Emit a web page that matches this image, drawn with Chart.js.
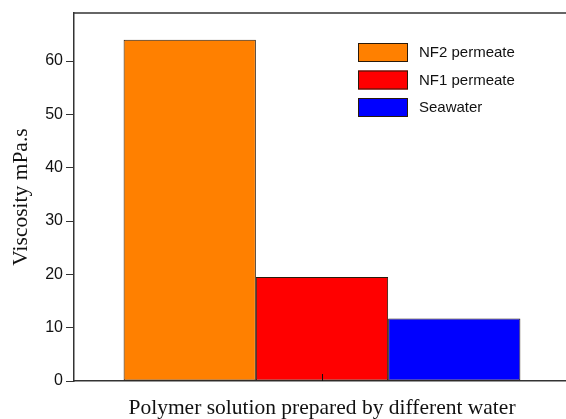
<!DOCTYPE html>
<html>
<head>
<meta charset="utf-8">
<script src="https://cdn.jsdelivr.net/npm/chart.js@4/dist/chart.umd.min.js"></script>
<style>
    html, body { margin: 0; padding: 0; background: #fff; overflow: hidden; }
    #wrap { width: 572px; height: 419px; }
</style>
</head>
<body>
<div id="wrap"><canvas id="myChart"></canvas></div>
<script>
// Data
let categories = [""];
let seriesNames = ["NF2 permeate", "NF1 permeate", "Seawater"];
let viscosity = [64, 19.5, 11.7];
let seriesColors = ["#ff8000", "#ff0000", "#0000ff"];
let yTicks = [0, 10, 20, 30, 40, 50, 60];

let axisColor = "#333333";

// one dataset per water type, all in the same category
var datasets = [];
for (var i = 0; i < seriesNames.length; i++) {
    datasets.push({
        label: seriesNames[i],
        data: [viscosity[i]],
        backgroundColor: seriesColors[i],
        borderColor: "#2a1a0a",
        borderWidth: 1,
        borderSkipped: false,
        categoryPercentage: 0.8,
        barPercentage: 1.0
    });
}

// top frame line, inward x tick and the legend inside the plot
var framePlugin = {
    id: "frame",
    afterDraw: function (chart) {
        let ctx = chart.ctx;
        let area = chart.chartArea;
        let xs = chart.scales.x;
        ctx.save();
        ctx.strokeStyle = axisColor;
        ctx.lineWidth = 1.5;
        ctx.beginPath();
        ctx.moveTo(area.left, area.top);
        ctx.lineTo(area.right, area.top);
        ctx.stroke();

        // tick on the x axis pointing up
        let tx = Math.round(xs.getPixelForValue(0)) + 0.5;
        ctx.lineWidth = 1;
        ctx.strokeStyle = "#111";
        ctx.beginPath();
        ctx.moveTo(tx, area.bottom);
        ctx.lineTo(tx, area.bottom - 7);
        ctx.stroke();

        // legend
        let lx = area.right - 212;
        let ly = area.top + 30;
        ctx.font = "15px 'Liberation Sans', Arial, sans-serif";
        ctx.textBaseline = "middle";
        ctx.textAlign = "left";
        chart.data.datasets.forEach(function (ds, k) {
            let y = ly + k * 27.5;
            ctx.fillStyle = ds.backgroundColor;
            ctx.fillRect(lx, y, 50, 19);
            ctx.strokeStyle = "#2a1a0a";
            ctx.lineWidth = 1;
            ctx.strokeRect(lx + 0.5, y + 0.5, 49, 18);
            ctx.fillStyle = "#111";
            ctx.fillText(ds.label, lx + 61, y + 10);
        });
        ctx.restore();
    }
};

new Chart("myChart", {
    type: "bar",
    data: {
        labels: categories,
        datasets: datasets
    },
    options: {
        responsive: true,
        maintainAspectRatio: false,
        animation: false,
        layout: { padding: { top: 13, right: 2, left: 0, bottom: 0 } },
        plugins: {
            legend: { display: false },
            tooltip: { enabled: false }
        },
        scales: {
            x: {
                grid: { display: false },
                border: { display: true, color: axisColor, width: 1.5 },
                ticks: { display: false },
                title: {
                    display: true,
                    text: "Polymer solution prepared by different water",
                    color: "#111",
                    font: { family: "'Liberation Serif', 'Times New Roman', serif", size: 21.5 },
                    padding: { top: 0, bottom: -2 }
                },
                afterFit: function (scale) { scale.height = 38; }
            },
            y: {
                min: 0,
                max: 69,
                afterBuildTicks: function (scale) {
                    scale.ticks = yTicks.map(function (v) { return { value: v }; });
                },
                grid: {
                    drawOnChartArea: false,
                    drawTicks: true,
                    tickLength: 8,
                    tickColor: axisColor,
                    tickWidth: 1
                },
                border: { display: true, color: axisColor, width: 1.5 },
                ticks: {
                    color: "#111",
                    padding: 3,
                    font: { family: "'Liberation Sans', Arial, sans-serif", size: 16 }
                },
                title: {
                    display: true,
                    text: "Viscosity mPa.s",
                    color: "#111",
                    font: { family: "'Liberation Serif', 'Times New Roman', serif", size: 21.5 },
                    padding: { top: 8, bottom: 0 }
                },
                afterFit: function (scale) { scale.width = 74; }
            }
        }
    },
    plugins: [framePlugin]
});
</script>
</body>
</html>
